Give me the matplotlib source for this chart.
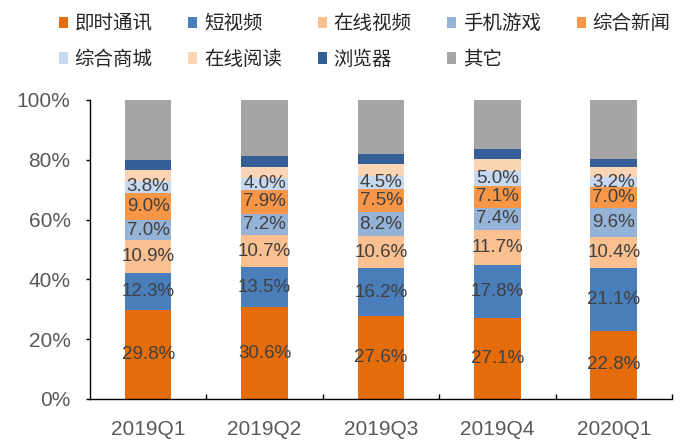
import matplotlib
matplotlib.use("Agg")
import matplotlib.pyplot as plt
from matplotlib.patches import Patch
import numpy as np

categories = ["2019Q1", "2019Q2", "2019Q3", "2019Q4", "2020Q1"]
series_names = ["即时通讯", "短视频", "在线视频", "手机游戏", "综合新闻",
                "综合商城", "在线阅读", "浏览器", "其它"]
im = [29.8, 30.6, 27.6, 27.1, 22.8]
short_video = [12.3, 13.5, 16.2, 17.8, 21.1]
online_video = [10.9, 10.7, 10.6, 11.7, 10.4]
mobile_game = [7.0, 7.2, 8.2, 7.4, 9.6]
news = [9.0, 7.9, 7.5, 7.1, 7.0]
mall = [3.8, 4.0, 4.5, 5.0, 3.2]
reading = [3.6, 3.5, 4.0, 4.2, 3.6]
browser = [3.5, 3.9, 3.2, 3.2, 2.6]
others = [20.1, 18.7, 18.2, 16.5, 19.7]
y_ticks = [0, 20, 40, 60, 80, 100]
y_tick_labels = ["0%", "20%", "40%", "60%", "80%", "100%"]

series = [im, short_video, online_video, mobile_game, news, mall, reading, browser, others]
colors = ["#E46C0A", "#4A7EBB", "#FAC090", "#95B3D7", "#F79646",
          "#C6D9F1", "#FCD5B5", "#335F96", "#A5A5A5"]
labeled = [True, True, True, True, True, True, False, False, False]

plt.rcParams['font.family'] = ['Liberation Sans', 'Noto Sans CJK SC', 'DejaVu Sans']

fig = plt.figure(figsize=(6.92, 4.42), dpi=100)
ax = fig.add_axes([0.130, 0.0973, 0.841, 0.6767])

x = np.arange(len(categories))
bottom = np.zeros(len(categories))
for vals, col, lab in zip(series, colors, labeled):
    v = np.array(vals)
    ax.bar(x, v, width=0.40, bottom=bottom, color=col, edgecolor='none', zorder=2)
    if lab:
        for xi, b, vi in zip(x, bottom, v):
            ax.text(xi, b + vi / 2, f"{vi:.1f}%", ha='center', va='center',
                    fontsize=13.5, color='#404040', zorder=3)
    bottom += v

ax.set_xlim(-0.5, len(categories) - 0.5)
ax.set_ylim(0, 100)
ax.set_yticks(y_ticks)
ax.set_yticklabels(y_tick_labels)
ax.tick_params(axis='y', direction='out', length=3, width=1, pad=11,
               labelsize=15, labelcolor='#595959', color='black')

ax.set_xticks(np.arange(len(categories)) + 0.5)
ax.set_xticklabels([])
ax.tick_params(axis='x', which='major', direction='in', length=3.5, width=1, color='black')
ax.set_xticks(x, minor=True)
ax.set_xticklabels(categories, minor=True)
ax.tick_params(axis='x', which='minor', length=0, pad=15, labelsize=15, labelcolor='#595959')

for s in ['top', 'right']:
    ax.spines[s].set_visible(False)
for s in ['left', 'bottom']:
    ax.spines[s].set_color('black')
    ax.spines[s].set_linewidth(1)

handles = [Patch(facecolor=c, edgecolor='none') for c in colors]
ncol = 5
nrow = 2
order = []
grid = [[None] * ncol for _ in range(nrow)]
for i in range(len(series_names)):
    grid[i // ncol][i % ncol] = i
for c in range(ncol):
    for r in range(nrow):
        if grid[r][c] is not None:
            order.append(grid[r][c])
leg = fig.legend([handles[i] for i in order], [series_names[i] for i in order],
                 ncol=ncol, loc='upper left', bbox_to_anchor=(0.085, 0.970),
                 frameon=False, borderpad=0, borderaxespad=0,
                 handlelength=0.45, handleheight=0.55, handletextpad=0.35,
                 columnspacing=1.85, labelspacing=0.75,
                 prop={'family': ['Noto Sans CJK SC', 'DejaVu Sans'], 'size': 14})
for t in leg.get_texts():
    t.set_color('#262626')

fig.savefig("out.png", dpi=100)
